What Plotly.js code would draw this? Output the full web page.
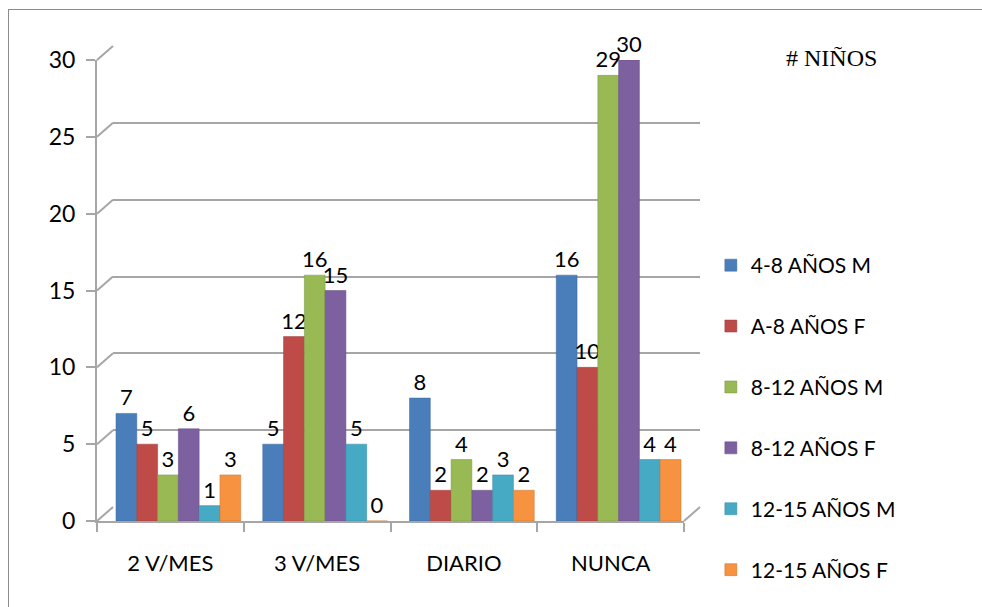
<!DOCTYPE html>
<html>
<head>
<meta charset="utf-8">
<script src="https://cdn.plot.ly/plotly-3.0.1.min.js"></script>
<style>
html,body{margin:0;padding:0;background:#fff;}
#wrap{position:relative;width:982px;height:607px;overflow:hidden;}
#chart{position:absolute;left:0;top:0;width:982px;height:607px;}
#frame{position:absolute;left:8px;top:9px;width:1100px;height:800px;border-left:1px solid #8c8c8c;border-top:1px solid #8c8c8c;pointer-events:none;}
</style>
</head>
<body>
<div id="wrap"><div id="chart"></div><div id="frame"></div></div>
<script>
const categories = ["2 V/MES", "3 V/MES", "DIARIO", "NUNCA"];
const seriesNames = ["4-8 AÑOS M", "A-8 AÑOS F", "8-12 AÑOS M", "8-12 AÑOS F", "12-15 AÑOS M", "12-15 AÑOS F"];
const s48M = [7, 5, 8, 16];
const s48F = [5, 12, 2, 10];
const s812M = [3, 16, 4, 29];
const s812F = [6, 15, 2, 30];
const s1215M = [1, 5, 3, 4];
const s1215F = [3, 0, 2, 4];
const yTicks = [0, 5, 10, 15, 20, 25, 30];
const chartTitle = "# NIÑOS";

const seriesValues = [s48M, s48F, s812M, s812F, s1215M, s1215F];
const colors = ["#4A7EBB", "#BE4B48", "#98B954", "#7D60A0", "#46AAC5", "#F69240"];
const lineColors = ["#3B6596", "#983C3A", "#7A9443", "#644D80", "#38889E", "#C57533"];

const FONT = "Lato, 'Open Sans', sans-serif";

// pixel geometry of plot area
const L = 97, R = 700, T = 46, B = 521;
const W = R - L, H = B - T;
const dx = 16, dy = 14;
const barShift = 8;

const traces = [];
// dummy trace for back wall subplot
traces.push({
  type: "scatter", x: [0], y: [0], xaxis: "x", yaxis: "y",
  mode: "markers", marker: { opacity: 0 }, showlegend: false, hoverinfo: "skip"
});
seriesValues.forEach((vals, i) => traces.push({
  type: "bar",
  name: seriesNames[i],
  x: categories,
  y: vals,
  xaxis: "x2",
  yaxis: "y2",
  legendgroup: "g" + i,
  marker: { color: colors[i], line: { color: lineColors[i], width: 0.5 } },
  text: vals.map(String),
  textposition: "outside",
  constraintext: "none",
  textfont: { family: FONT, size: 22, color: "#000" },
  cliponaxis: false,
  hoverinfo: "skip"
}));
// dummy trace for the category label axis
traces.push({
  type: "scatter", x: categories, y: [0, 0, 0, 0], xaxis: "x3", yaxis: "y2",
  mode: "markers", marker: { opacity: 0 }, showlegend: false, hoverinfo: "skip"
});

const shapes = [];
yTicks.forEach(v => {
  const yf = (v / 30) * (H - dy) / H;
  const yb = yf + dy / H;
  shapes.push({ type: "line", xref: "paper", yref: "paper", x0: 0, y0: yf, x1: dx / W, y1: yb,
    line: { color: "#A6A6A6", width: 2 } });
});
// right floor diagonal
shapes.push({ type: "line", xref: "paper", yref: "paper", x0: (W - dx) / W, y0: 0, x1: 1, y1: dy / H,
  line: { color: "#A6A6A6", width: 2 } });

const layout = {
  width: 982, height: 607,
  margin: { l: L, r: 982 - R, t: T, b: 607 - B, pad: 0, autoexpand: false },
  paper_bgcolor: "#fff",
  plot_bgcolor: "rgba(0,0,0,0)",
  barmode: "group",
  bargap: 0.15,
  bargroupgap: 0,
  showlegend: true,
  legend: {
    x: 1.018, xanchor: "left", y: (B - 245) / H, yanchor: "top",
    font: { family: FONT, size: 21, color: "#000" },
    tracegroupgap: 30.6,
    itemwidth: 30,
    bgcolor: "rgba(0,0,0,0)"
  },
  xaxis: {
    domain: [dx / W, 1], range: [0, 1], showgrid: false, zeroline: false,
    showticklabels: false, ticks: "", showline: false, fixedrange: true
  },
  yaxis: {
    domain: [dy / H, 1], range: [0, 30], tickvals: yTicks, showgrid: true,
    gridcolor: "#A6A6A6", gridwidth: 2, zeroline: false, showticklabels: false,
    ticks: "", showline: false, fixedrange: true
  },
  xaxis2: {
    domain: [barShift / W, (W - dx + barShift) / W], anchor: "y2", type: "category",
    range: [-0.5, 3.5],
    showgrid: false, zeroline: false, showline: false, showticklabels: false,
    ticks: "", fixedrange: true
  },
  xaxis3: {
    domain: [0, (W - dx) / W], anchor: "y2", type: "category", range: [-0.5, 3.5],
    showgrid: false, zeroline: false, showline: true, linecolor: "#A6A6A6", linewidth: 2,
    ticks: "outside", tickson: "boundaries", ticklen: 9, tickwidth: 2, tickcolor: "#A6A6A6",
    ticklabelstandoff: 22,
    tickfont: { family: FONT, size: 22, color: "#000" }, fixedrange: true
  },
  yaxis2: {
    domain: [0, (H - dy) / H], anchor: "x3", range: [0, 30], tickvals: yTicks,
    showgrid: false, zeroline: false, showline: true, linecolor: "#A6A6A6", linewidth: 2,
    ticks: "outside", ticklen: 9, tickwidth: 2, tickcolor: "#A6A6A6",
    ticklabelstandoff: 6,
    tickfont: { family: FONT, size: 23, color: "#000" }, fixedrange: true
  },
  shapes: shapes,
  annotations: [{
    text: chartTitle, xref: "paper", yref: "paper",
    x: (832 - L) / W, y: (B - 58) / H, xanchor: "center", yanchor: "middle",
    showarrow: false, font: { family: "'Liberation Serif', 'DejaVu Serif', serif", size: 24, color: "#000" }
  }]
};

Plotly.newPlot("chart", traces, layout, { displayModeBar: false, staticPlot: true });
</script>
</body>
</html>
